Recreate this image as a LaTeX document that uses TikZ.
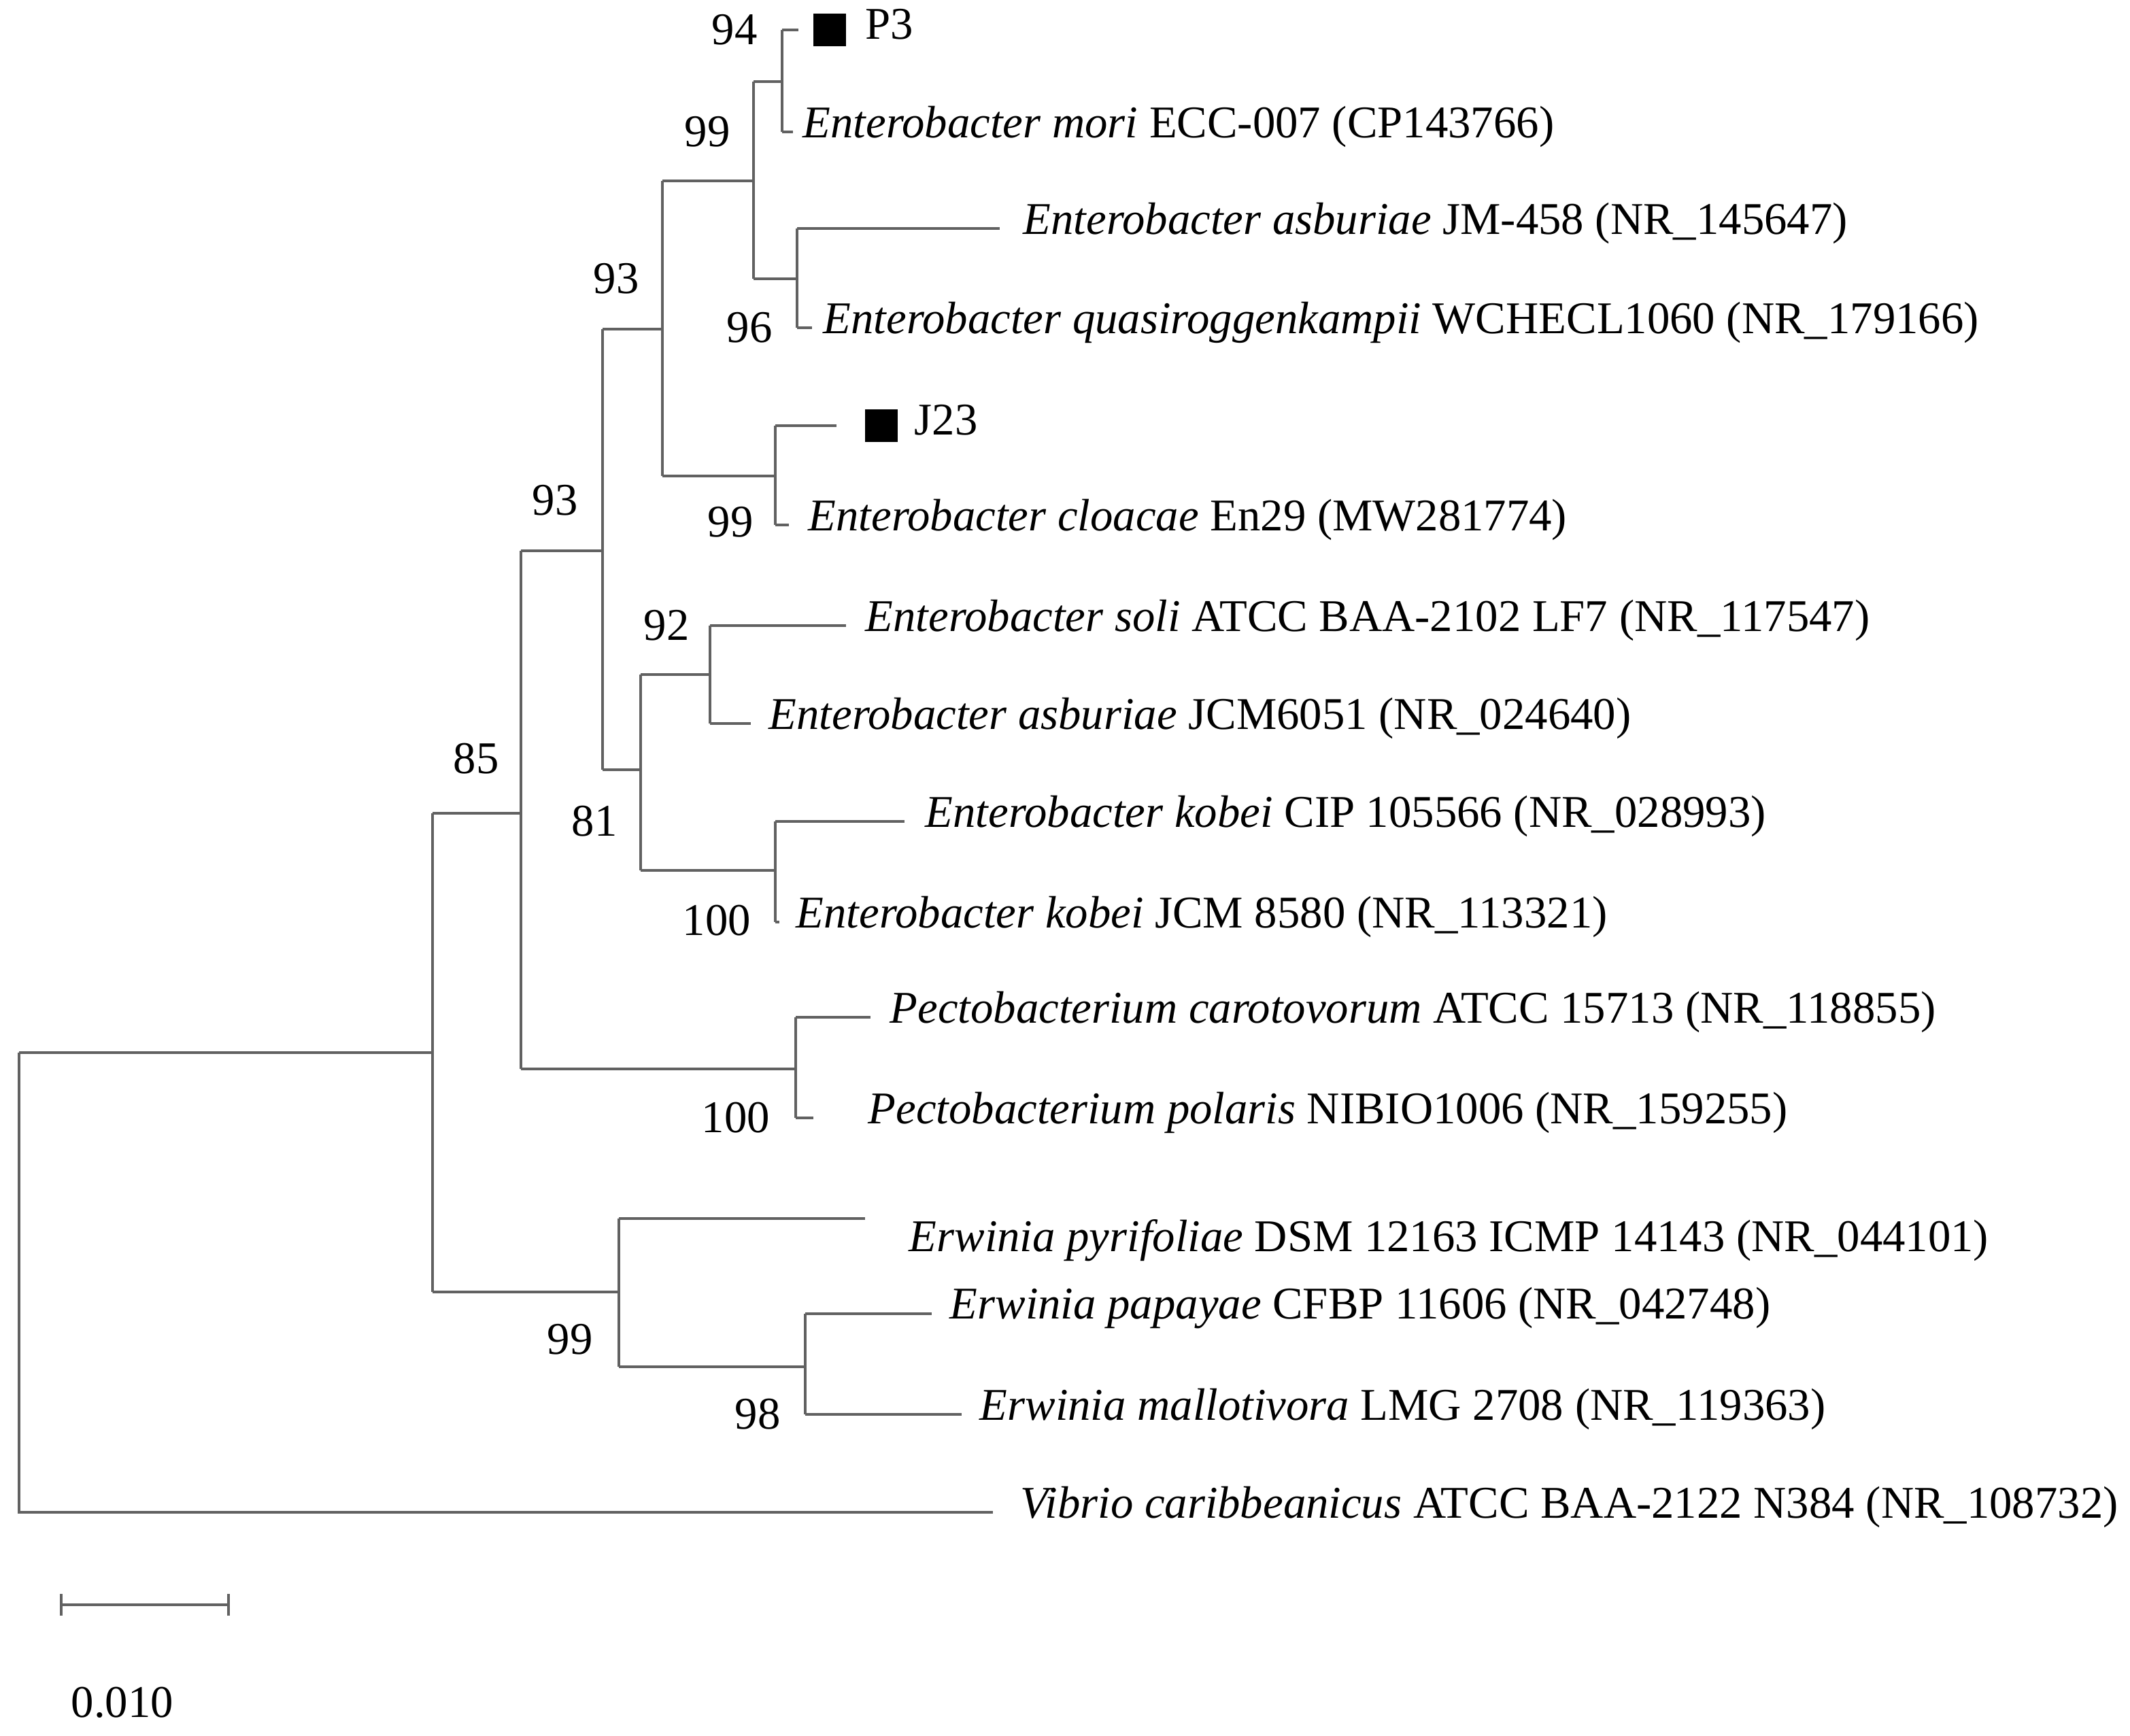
\documentclass[tikz,border=0pt]{standalone}
\usepackage{fontspec}
\setmainfont{Liberation Serif}
\begin{document}
\begin{tikzpicture}[x=0.02cm,y=-0.02cm,
  br/.style={draw=black!62,line width=1.2pt},
  lf/.style={anchor=west,inner sep=0pt,font=\fontsize{19}{21}\selectfont,yshift=0.08cm},
  bs/.style={anchor=center,inner sep=0pt,font=\fontsize{19}{21}\selectfont},
  sq/.style={fill=black,minimum size=0.48cm,inner sep=0pt}]
\useasboundingbox (0,0) rectangle (1566,1276);
% internal nodes
\coordinate (R) at (14,774);
\coordinate (A) at (318,774); \coordinate (At) at (318,598); \coordinate (Ab) at (318,950);
\coordinate (B) at (383,598); \coordinate (Bt) at (383,405); \coordinate (Bb) at (383,786);
\coordinate (C) at (443,405); \coordinate (Ct) at (443,242); \coordinate (Cb) at (443,566);
\coordinate (D) at (487,242); \coordinate (Dt) at (487,133); \coordinate (Db) at (487,350);
\coordinate (E) at (554,133); \coordinate (Et) at (554,60); \coordinate (Eb) at (554,205);
\coordinate (H) at (575,60); \coordinate (Ht) at (575,22); \coordinate (Hb) at (575,97);
\coordinate (I) at (586,205); \coordinate (It) at (586,168); \coordinate (Ib) at (586,241);
\coordinate (F) at (570,350); \coordinate (Ft) at (570,313); \coordinate (Fb) at (570,386);
\coordinate (G) at (471,566); \coordinate (Gt) at (471,496); \coordinate (Gb) at (471,640);
\coordinate (J) at (522,496); \coordinate (Jt) at (522,460); \coordinate (Jb) at (522,532);
\coordinate (K) at (570,640); \coordinate (Kt) at (570,604); \coordinate (Kb) at (570,678);
\coordinate (L) at (585,786); \coordinate (Lt) at (585,748); \coordinate (Lb) at (585,822);
\coordinate (M) at (455,950); \coordinate (Mt) at (455,896); \coordinate (Mb) at (455,1005);
\coordinate (N) at (592,1005); \coordinate (Nt) at (592,966); \coordinate (Nb) at (592,1040);
% leaf ends
\coordinate (eP3) at (587,22); \coordinate (eMori) at (583,97);
\coordinate (eAsbJM) at (735,168); \coordinate (eQuasi) at (597,241);
\coordinate (eJ23) at (615,313); \coordinate (eClo) at (580,386);
\coordinate (eSoli) at (622,460); \coordinate (eAsbJCM) at (552,532);
\coordinate (eKobC) at (665,604); \coordinate (eKobJ) at (573,678);
\coordinate (eCaro) at (640,748); \coordinate (ePol) at (598,822);
\coordinate (ePyr) at (636,896); \coordinate (ePap) at (685,966);
\coordinate (eMal) at (707,1040); \coordinate (eVib) at (730,1112);
\coordinate (Rt) at (14,774); \coordinate (Rb) at (14,1112);
% branches
\draw[br] (Rt) -- (Rb) -- (eVib);
\draw[br] (R) -- (A); \draw[br] (At) -- (Ab);
\draw[br] (At) -- (B); \draw[br] (Bt) -- (Bb);
\draw[br] (Bt) -- (C); \draw[br] (Ct) -- (Cb);
\draw[br] (Ct) -- (D); \draw[br] (Dt) -- (Db);
\draw[br] (Dt) -- (E); \draw[br] (Et) -- (Eb);
\draw[br] (Et) -- (H); \draw[br] (Ht) -- (Hb);
\draw[br] (Ht) -- (eP3); \draw[br] (Hb) -- (eMori);
\draw[br] (Eb) -- (I); \draw[br] (It) -- (Ib);
\draw[br] (It) -- (eAsbJM); \draw[br] (Ib) -- (eQuasi);
\draw[br] (Db) -- (F); \draw[br] (Ft) -- (Fb);
\draw[br] (Ft) -- (eJ23); \draw[br] (Fb) -- (eClo);
\draw[br] (Cb) -- (G); \draw[br] (Gt) -- (Gb);
\draw[br] (Gt) -- (J); \draw[br] (Jt) -- (Jb);
\draw[br] (Jt) -- (eSoli); \draw[br] (Jb) -- (eAsbJCM);
\draw[br] (Gb) -- (K); \draw[br] (Kt) -- (Kb);
\draw[br] (Kt) -- (eKobC); \draw[br] (Kb) -- (eKobJ);
\draw[br] (Bb) -- (L); \draw[br] (Lt) -- (Lb);
\draw[br] (Lt) -- (eCaro); \draw[br] (Lb) -- (ePol);
\draw[br] (Ab) -- (M); \draw[br] (Mt) -- (Mb);
\draw[br] (Mt) -- (ePyr); \draw[br] (Mb) -- (N);
\draw[br] (Nt) -- (Nb); \draw[br] (Nt) -- (ePap); \draw[br] (Nb) -- (eMal);
% leaves
\node[sq] (sqP3) at (610,22) {};
\node[lf] (P3) at (636,22) {P3};
\node[lf] (mori) at (590,97) {\textit{Enterobacter mori} ECC-007 (CP143766)};
\node[lf] (asbJM) at (752,168) {\textit{Enterobacter asburiae} JM-458 (NR\_145647)};
\node[lf] (quasi) at (605,241) {\textit{Enterobacter quasiroggenkampii} WCHECL1060 (NR\_179166)};
\node[sq] (sqJ23) at (648,313) {};
\node[lf] (J23) at (672,313) {J23};
\node[lf] (clo) at (594,386) {\textit{Enterobacter cloacae} En29 (MW281774)};
\node[lf] (soli) at (636,460) {\textit{Enterobacter soli} ATCC BAA-2102 LF7 (NR\_117547)};
\node[lf] (asbJCM) at (565,532) {\textit{Enterobacter asburiae} JCM6051 (NR\_024640)};
\node[lf] (kobC) at (680,604) {\textit{Enterobacter kobei} CIP 105566 (NR\_028993)};
\node[lf] (kobJ) at (585,678) {\textit{Enterobacter kobei} JCM 8580 (NR\_113321)};
\node[lf] (caro) at (654,748) {\textit{Pectobacterium carotovorum} ATCC 15713 (NR\_118855)};
\node[lf] (pol) at (638,822) {\textit{Pectobacterium polaris} NIBIO1006 (NR\_159255)};
\node[lf] (pyr) at (668,916) {\textit{Erwinia pyrifoliae} DSM 12163 ICMP 14143 (NR\_044101)};
\node[lf] (pap) at (698,966) {\textit{Erwinia papayae} CFBP 11606 (NR\_042748)};
\node[lf] (mal) at (720,1040) {\textit{Erwinia mallotivora} LMG 2708 (NR\_119363)};
\node[lf] (vib) at (750,1112) {\textit{Vibrio caribbeanicus} ATCC BAA-2122 N384 (NR\_108732)};
% bootstrap
\node[bs] (b94) at (540,22) {94};
\node[bs] (b99a) at (520,97) {99};
\node[bs] (b96) at (551,241) {96};
\node[bs] (b99b) at (537,384) {99};
\node[bs] (b93a) at (453,205) {93};
\node[bs] (b93b) at (408,368) {93};
\node[bs] (b92) at (490,460) {92};
\node[bs] (b81) at (437,604) {81};
\node[bs] (b100a) at (527,677) {100};
\node[bs] (b100b) at (541,822) {100};
\node[bs] (b85) at (350,558) {85};
\node[bs] (b99c) at (419,985) {99};
\node[bs] (b98) at (557,1040) {98};
% scale bar
\coordinate (s1) at (45,1180); \coordinate (s2) at (168,1180);
\draw[br] (s1) -- (s2);
\draw[br] ([yshift=-0.16cm]s1) -- ([yshift=0.16cm]s1);
\draw[br] ([yshift=-0.16cm]s2) -- ([yshift=0.16cm]s2);
\node[bs] (sc) at (90,1252) {0.010};
\end{tikzpicture}
\end{document}
